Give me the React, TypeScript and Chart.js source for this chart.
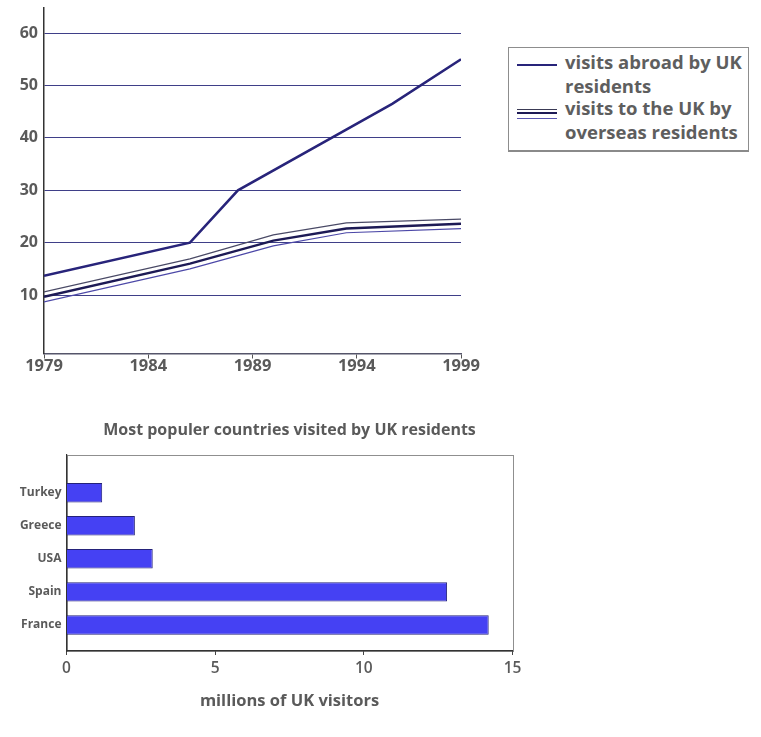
import React, { useEffect, useRef } from "react";
import { Chart, registerables } from "chart.js";
Chart.register(...registerables);

const FONT = "'Open Sans', sans-serif";
const TEXT = "#5a5a5a";

// ---- line chart data ----
const yearTicks = [1979, 1984, 1989, 1994, 1999];
const lineYTicks = [10, 20, 30, 40, 50, 60];
const abroadYears = [1979, 1986, 1988.3, 1995.7, 1999];
const abroadValues = [13.7, 20, 30, 46.5, 55];
const toUkYears = [1979, 1986, 1990, 1993.5, 1999];
const toUkValues = [9.7, 16.0, 20.4, 22.7, 23.6];
const toUkUpper = [10.6, 16.9, 21.5, 23.8, 24.5];
const toUkLower = [8.7, 15.0, 19.4, 21.9, 22.7];

// ---- bar chart data ----
const countries = ["Turkey", "Greece", "USA", "Spain", "France"];
const visitors = [1.2, 2.3, 2.9, 12.8, 14.2];
const barXTicks = [0, 5, 10, 15];

const pts = (xs: number[], ys: number[]) => xs.map((x, i) => ({ x, y: ys[i] }));

const boxPlugin = {
  id: "boxPlugin",
  beforeDraw(chart: any) {
    const { ctx, chartArea } = chart;
    ctx.save();
    ctx.strokeStyle = "#8f8f8f";
    ctx.lineWidth = 1;
    ctx.strokeRect(
      Math.round(chartArea.left) + 0.5,
      Math.round(chartArea.top) + 0.5,
      Math.round(chartArea.right - chartArea.left),
      Math.round(chartArea.bottom - chartArea.top)
    );
    ctx.restore();
  },
};

export default function App() {
  const lineRef = useRef<HTMLCanvasElement>(null);
  const barRef = useRef<HTMLCanvasElement>(null);

  useEffect(() => {
    const line = new Chart(lineRef.current!, {
      type: "line",
      data: {
        datasets: [
          {
            label: "visits abroad by UK residents",
            data: pts(abroadYears, abroadValues),
            borderColor: "#28247a",
            borderWidth: 2.5,
            pointRadius: 0,
            tension: 0,
          },
          {
            label: "visits to the UK by overseas residents (upper)",
            data: pts(toUkYears, toUkUpper),
            borderColor: "#4a4a66",
            borderWidth: 1.2,
            pointRadius: 0,
          },
          {
            label: "visits to the UK by overseas residents",
            data: pts(toUkYears, toUkValues),
            borderColor: "#1d1a55",
            borderWidth: 2.5,
            pointRadius: 0,
          },
          {
            label: "visits to the UK by overseas residents (lower)",
            data: pts(toUkYears, toUkLower),
            borderColor: "#4d49a8",
            borderWidth: 1.2,
            pointRadius: 0,
          },
        ],
      },
      options: {
        animation: false,
        responsive: false,
        layout: { padding: { top: 8, right: 39, left: 0, bottom: 0 } },
        plugins: { legend: { display: false }, tooltip: { enabled: false } },
        scales: {
          x: {
            type: "linear",
            min: 1979,
            max: 1999,
            afterBuildTicks: (s: any) => {
              s.ticks = yearTicks.map((v) => ({ value: v }));
            },
            afterFit: (s: any) => {
              s.height = 36.5;
            },
            grid: { drawOnChartArea: false, drawTicks: true, tickLength: 5, color: "#555" },
            border: { color: "#55556a", width: 1.5 },
            ticks: {
              font: { family: FONT, size: 16.5, weight: "bold", lineHeight: 1 },
              color: TEXT,
              padding: 0,
              maxRotation: 0,
              autoSkip: false,
              callback: (v: any) => String(v),
            },
          },
          y: {
            type: "linear",
            min: -1.15,
            max: 64.8,
            afterBuildTicks: (s: any) => {
              s.ticks = lineYTicks.map((v) => ({ value: v }));
            },
            afterFit: (s: any) => {
              s.width = 44;
              s.paddingTop = 0;
              s.paddingBottom = 0;
            },
            grid: { drawTicks: false, color: "#3f3f88", lineWidth: 1 },
            border: { color: "#333", width: 1.5 },
            ticks: {
              font: { family: FONT, size: 16, weight: "bold" },
              color: TEXT,
              padding: 6,
              callback: (v: any) => String(v),
            },
          },
        },
      },
    });

    const bar = new Chart(barRef.current!, {
      type: "bar",
      data: {
        datasets: [
          {
            label: "millions of UK visitors",
            data: visitors.map((v, i) => ({ x: v, y: i })),
            backgroundColor: "#4541f3",
            borderColor: "#24227a",
            borderWidth: 1,
            barPercentage: 0.59,
            categoryPercentage: 1,
          },
        ],
      },
      options: {
        indexAxis: "y",
        animation: false,
        responsive: false,
        layout: { padding: { left: 0, right: 72.5, top: 0, bottom: 0 } },
        plugins: {
          legend: { display: false },
          tooltip: { enabled: false },
          title: {
            display: true,
            fullSize: false,
            text: "Most populer countries visited by UK residents",
            font: { family: FONT, size: 16, weight: "bold" },
            color: TEXT,
            padding: { top: 11, bottom: 14.6 },
          },
        },
        scales: {
          x: {
            type: "linear",
            min: 0,
            max: 15,
            afterBuildTicks: (s: any) => {
              s.ticks = barXTicks.map((v) => ({ value: v }));
            },
            afterFit: (s: any) => {
              s.height = 79;
            },
            grid: { drawOnChartArea: false, drawTicks: true, tickLength: 4, color: "#444" },
            border: { color: "#333", width: 1.2 },
            ticks: {
              font: { family: FONT, size: 15.5, weight: "600" },
              color: TEXT,
              padding: 4,
              maxRotation: 0,
              callback: (v: any) => String(v),
            },
            title: {
              display: true,
              text: "millions of UK visitors",
              font: { family: FONT, size: 16.5, weight: "bold" },
              color: TEXT,
              padding: { top: 0, bottom: 19 },
            },
          },
          y: {
            type: "linear",
            reverse: true,
            offset: false,
            min: -1.15,
            max: 4.79,
            afterBuildTicks: (s: any) => {
              s.ticks = countries.map((_, i) => ({ value: i }));
            },
            afterFit: (s: any) => {
              s.width = 66.5;
              s.paddingTop = 0;
              s.paddingBottom = 0;
            },
            grid: { display: false, drawTicks: false, offset: false },
            border: { color: "#333", width: 1.2 },
            ticks: {
              font: { family: FONT, size: 12, weight: "bold" },
              color: TEXT,
              padding: 5,
              callback: (v: any) => countries[v as number] ?? "",
            },
          },
        },
      },
      plugins: [boxPlugin],
    });

    return () => {
      line.destroy();
      bar.destroy();
    };
  }, []);

  const legendText: React.CSSProperties = {
    position: "absolute",
    left: 565,
    fontFamily: FONT,
    fontWeight: 700,
    fontSize: 18.5,
    lineHeight: "24px",
    color: "#5e5e5e",
    whiteSpace: "nowrap",
  };

  return (
    <div
      style={{
        position: "absolute",
        left: 0,
        top: 0,
        width: 761,
        height: 737,
        background: "#fff",
        overflow: "hidden",
      }}
    >
      <canvas
        ref={lineRef}
        width={500}
        height={390}
        style={{ position: "absolute", left: 0, top: 0, width: 500, height: 390 }}
      />
      <canvas
        ref={barRef}
        width={585}
        height={320}
        style={{ position: "absolute", left: 0, top: 410, width: 585, height: 320 }}
      />
      <div
        style={{
          position: "absolute",
          left: 508,
          top: 47,
          width: 241,
          height: 105,
          boxSizing: "border-box",
          border: "1px solid #8d8d8d",
          borderBottom: "2px solid #8a8a8a",
        }}
      />
      <div style={{ position: "absolute", left: 517, top: 64, width: 40, height: 2, background: "#28247a" }} />
      <div style={{ position: "absolute", left: 517, top: 109, width: 40, height: 1, background: "#3a3a55" }} />
      <div style={{ position: "absolute", left: 517, top: 111.5, width: 40, height: 2, background: "#1d1a55" }} />
      <div style={{ position: "absolute", left: 517, top: 117.5, width: 40, height: 1.3, background: "#5a56b0" }} />
      <div style={{ ...legendText, top: 50 }}>visits abroad by UK</div>
      <div style={{ ...legendText, top: 74 }}>residents</div>
      <div style={{ ...legendText, top: 96 }}>visits to the UK by</div>
      <div style={{ ...legendText, top: 120 }}>overseas residents</div>
    </div>
  );
}
